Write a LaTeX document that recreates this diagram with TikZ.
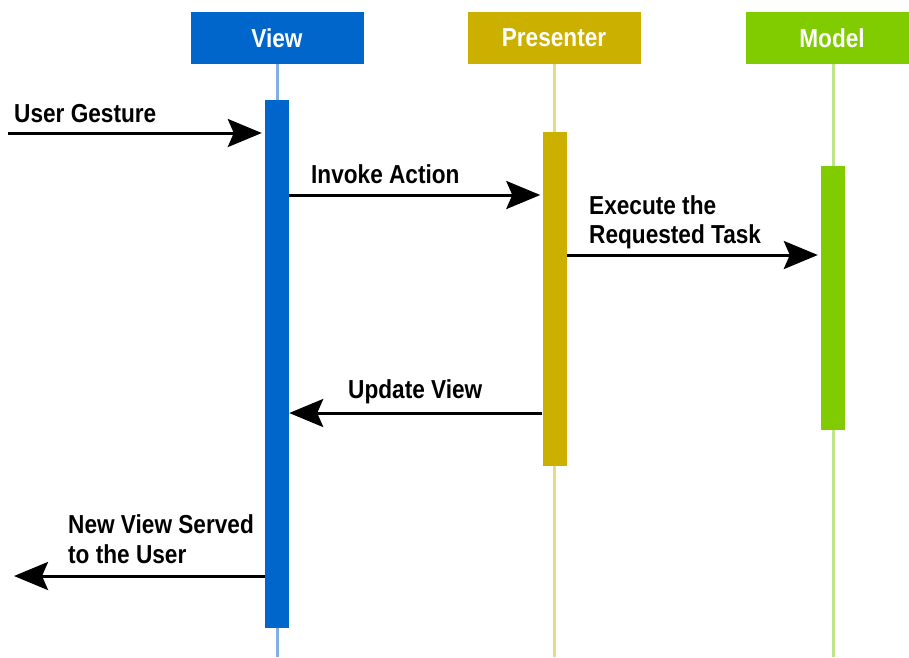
\documentclass[tikz,border=0pt]{standalone}
\usepackage{fontspec}
\setmainfont[FakeStretch=0.87]{Liberation Sans}
\usetikzlibrary{arrows.meta}
\definecolor{viewc}{RGB}{0,102,204}
\definecolor{viewl}{RGB}{130,176,228}
\definecolor{presc}{RGB}{204,176,0}
\definecolor{presl}{RGB}{232,220,128}
\definecolor{modc}{RGB}{128,204,0}
\definecolor{modl}{RGB}{190,228,140}
\begin{document}
\begin{tikzpicture}[x=1pt,y=-1pt,
  hdr/.style={minimum width=173pt,minimum height=52pt,inner sep=0pt,text=white,
    font=\bfseries\fontsize{26}{29}\selectfont},
  bar/.style={minimum width=24pt,inner sep=0pt,anchor=north},
  life/.style={line width=3pt},
  msg/.style={line width=3pt,-{Stealth[length=34pt,width=28pt,inset=6pt]}},
  lbl/.style={anchor=base west,inner sep=0pt,font=\bfseries\fontsize{26}{29}\selectfont}]
\useasboundingbox (0,0) rectangle (909,657);
\clip (0,0) rectangle (909,657);
% lifelines
\draw[life,viewl] (277,64) -- (277,657);
\draw[life,presl] (554,64) -- (554,657);
\draw[life,modl] (833,64) -- (833,657);
% headers
\node[hdr,fill=viewc] (view) at (277,38) {View};
\node[hdr,fill=presc] (pres) at (554,38) {Presenter};
\node[hdr,fill=modc] (model) at (832,38) {Model};
% activation bars
\node[bar,fill=viewc,minimum height=528pt] (vbar) at (277,100) {};
\node[bar,fill=presc,minimum height=334pt] (pbar) at (554.5,132) {};
\node[bar,fill=modc,minimum height=264pt] (mbar) at (833,166) {};
% message levels
\coordinate (y1) at (0,133);
\coordinate (y2) at (0,195);
\coordinate (y3) at (0,255);
\coordinate (y4) at (0,413);
\coordinate (y5) at (0,576);
\coordinate (user) at (8,133);
\coordinate (userout) at (14,576);
% messages
\draw[msg,shorten >=3pt] (user) -- (vbar.west |- y1);
\draw[msg,shorten >=2pt] (vbar.east |- y2) -- (pbar.west |- y2);
\draw[msg,shorten >=3pt] (pbar.east |- y3) -- (mbar.west |- y3);
\draw[msg] (pbar.west |- y4) -- (vbar.east |- y4);
\draw[msg] (vbar.west |- y5) -- (userout);
% labels
\node[lbl] (l1) at (14,122) {User Gesture};
\node[lbl] (l2) at (311,183) {Invoke Action};
\node[lbl] (l3a) at (589,214) {Execute the};
\node[lbl] (l3b) at (589,243) {Requested Task};
\node[lbl] (l4) at (348,398) {Update View};
\node[lbl] (l5a) at (68,533) {New View Served};
\node[lbl] (l5b) at (68,563) {to the User};
\end{tikzpicture}
\end{document}
